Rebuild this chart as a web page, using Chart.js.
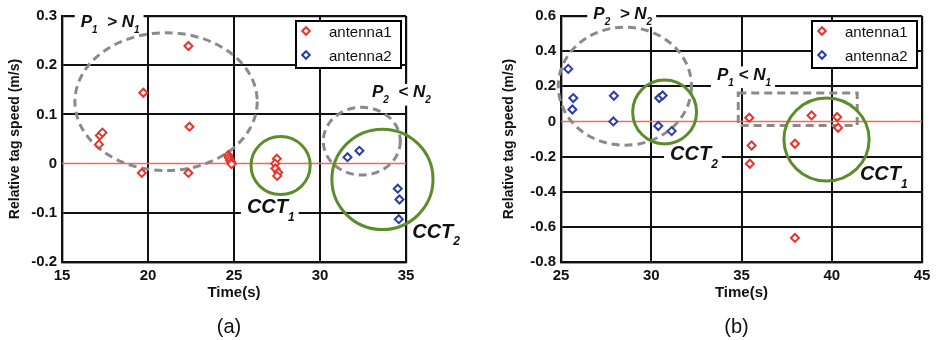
<!DOCTYPE html>
<html><head><meta charset="utf-8">
<script src="https://cdn.jsdelivr.net/npm/chart.js@4.4.1/dist/chart.umd.min.js"></script>
<style>
html,body{margin:0;padding:0;background:#fff;}
#wrap{position:relative;width:937px;height:340px;overflow:hidden;background:#fff;}
.c{position:absolute;top:0;height:340px;}
#ca{left:0;width:468px;} #cb{left:468px;width:469px;}
</style></head><body>
<div id="wrap"><div class="c" id="ca"><canvas id="a" width="468" height="340"></canvas></div><div class="c" id="cb"><canvas id="b" width="469" height="340"></canvas></div></div>
<script>
// ---------- data (a) ----------
const timeA1  = [17.15,17.2,17.35,19.64,19.73,22.35,22.35,22.41,24.66,24.71,24.77,24.83,24.86,27.49,27.39,27.41,27.57,27.51];
const speedA1 = [0.039,0.057,0.063,-0.019,0.144,0.239,-0.019,0.075,0.017,0.012,0.007,0.003,-0.001,0.010,0.000,-0.010,-0.018,-0.025];
const timeA2  = [31.6,32.29,34.52,34.62,34.58];
const speedA2 = [0.013,0.026,-0.051,-0.073,-0.113];
// ---------- data (b) ----------
const timeB1  = [35.43,35.56,35.46,37.96,37.96,38.88,40.3,40.35];
const speedB1 = [0.021,-0.137,-0.241,-0.127,-0.663,0.034,0.025,-0.036];
const timeB2  = [25.4,25.68,25.63,27.93,27.9,30.44,30.63,30.39,31.13];
const speedB2 = [0.299,0.133,0.068,0.146,0.0,0.133,0.148,-0.026,-0.055];
// ---------- ticks ----------
const xTicksA = [15,20,25,30,35];
const xLabelsA = ['15','20','25','30','35'];
const yTicksA = [-0.2,-0.1,0,0.1,0.2,0.3];
const yLabelsA = ['-0.2','-0.1','0','0.1','0.2','0.3'];
const xTicksB = [25,30,35,40,45];
const xLabelsB = ['25','30','35','40','45'];
const yTicksB = [-0.8,-0.6,-0.4,-0.2,0,0.2,0.4,0.6];
const yLabelsB = ['-0.8','-0.6','-0.4','-0.2','0','0.2','0.4','0.6'];
const seriesNames = ['antenna1','antenna2'];
const xTitle = 'Time(s)';
const yTitle = 'Relative tag speed (m/s)';

// ---------- annotations (in data units) ----------
const shapesA = [
  {type:'ellipse', cx:21.05, cy:0.126, rx:5.3, ry:0.14, style:'gray'},
  {type:'ellipse', cx:32.43, cy:0.0456, rx:2.24, ry:0.069, style:'gray'},
  {type:'ellipse', cx:27.71, cy:-0.004, rx:1.72, ry:0.059, style:'green'},
  {type:'ellipse', cx:33.63, cy:-0.032, rx:2.94, ry:0.102, style:'green'}
];
const labelsA = [
  {x:16.09, y:0.2785, size:17, bg:true, parts:[['P',0],['1',1],['  > N',0],['1',1]]},
  {x:33.02, y:0.135, size:17, bg:true, parts:[['P',0],['2',1],['  < N',0],['2',1]]},
  {x:25.75, y:-0.1014, size:20, bg:true, parts:[['CCT',0],['1',1]]},
  {x:35.36, y:-0.1515, size:20, bg:false, parts:[['CCT',0],['2',1]]}
];
const shapesB = [
  {type:'ellipse', cx:28.54, cy:0.2006, rx:3.69, ry:0.336, style:'gray'},
  {type:'rect', x0:34.82, y0:0.162, x1:41.41, y1:-0.023, style:'gray'},
  {type:'ellipse', cx:30.74, cy:0.054, rx:1.77, ry:0.182, style:'green'},
  {type:'ellipse', cx:39.71, cy:-0.103, rx:2.36, ry:0.236, style:'green'}
];
const labelsB = [
  {x:26.79, y:0.585, size:17, bg:true, parts:[['P',0],['2',1],['  > N',0],['2',1]]},
  {x:33.64, y:0.2376, size:17, bg:true, parts:[['P',0],['1',1],[' < N',0],['1',1]]},
  {x:31.04, y:-0.222, size:20, bg:true, parts:[['CCT',0],['2',1]]},
  {x:41.56, y:-0.336, size:20, bg:false, parts:[['CCT',0],['1',1]]}
];

const RED = '#e8342c', BLUE = '#2b3ea8', GREEN = '#5c8c2b', GRAY = '#8a8a8a', ZERO = '#f26d50';
const FAM = '"Liberation Sans", Arial, Helvetica, sans-serif';

function labelMetrics(ctx, L) {
  const subSize = Math.round(L.size * 0.6);
  let w = 0;
  const ws = L.parts.map(p => {
    ctx.font = `italic bold ${p[1] ? subSize : L.size}px ${FAM}`;
    const m = ctx.measureText(p[0]).width; w += m; return m;
  });
  return {subSize, ws, w};
}

const annotPlugin = {
  id: 'annot',
  beforeDatasetsDraw(chart, args, opts) {
    const ctx = chart.ctx, xs = chart.scales.x, ys = chart.scales.y, ca = chart.chartArea;
    ctx.save();
    // zero line
    const y0 = ys.getPixelForValue(0);
    ctx.strokeStyle = ZERO; ctx.lineWidth = 1.5;
    ctx.beginPath(); ctx.moveTo(ca.left, y0); ctx.lineTo(ca.right, y0); ctx.stroke();
    // label backgrounds
    opts.labels.forEach(L => {
      if (!L.bg) return;
      const m = labelMetrics(ctx, L);
      const px = xs.getPixelForValue(L.x), py = ys.getPixelForValue(L.y);
      ctx.fillStyle = '#fff';
      ctx.fillRect(px - 6, py - L.size * 0.78, m.w + 10, L.size * 0.78 + m.subSize * 0.75 + 1);
    });
    // shapes
    opts.shapes.forEach(s => {
      ctx.beginPath();
      if (s.style === 'gray') { ctx.strokeStyle = GRAY; ctx.lineWidth = 3; ctx.setLineDash([8, 5]); }
      else { ctx.strokeStyle = GREEN; ctx.lineWidth = 3; ctx.setLineDash([]); }
      if (s.type === 'ellipse') {
        const cx = xs.getPixelForValue(s.cx), cy = ys.getPixelForValue(s.cy);
        const rx = Math.abs(xs.getPixelForValue(s.cx + s.rx) - cx);
        const ry = Math.abs(ys.getPixelForValue(s.cy + s.ry) - cy);
        ctx.ellipse(cx, cy, rx, ry, 0, 0, Math.PI * 2);
      } else {
        const x0 = xs.getPixelForValue(s.x0), x1 = xs.getPixelForValue(s.x1);
        const y0r = ys.getPixelForValue(s.y0), y1r = ys.getPixelForValue(s.y1);
        ctx.rect(x0, y0r, x1 - x0, y1r - y0r);
      }
      ctx.stroke();
    });
    ctx.setLineDash([]);
    // label text
    opts.labels.forEach(L => {
      const m = labelMetrics(ctx, L);
      let px = xs.getPixelForValue(L.x); const py = ys.getPixelForValue(L.y);
      ctx.fillStyle = '#111'; ctx.textBaseline = 'alphabetic'; ctx.textAlign = 'left';
      L.parts.forEach((p, i) => {
        ctx.font = `italic bold ${p[1] ? m.subSize : L.size}px ${FAM}`;
        ctx.fillText(p[0], px, p[1] ? py + L.size * 0.36 : py);
        px += m.ws[i];
      });
    });
    ctx.restore();
  },
  afterDatasetsDraw(chart, args, opts) {
    const ctx = chart.ctx, ca = chart.chartArea;
    ctx.save();
    // legend
    const bw = 105, bh = 47;
    const bx = ca.right - 5 - bw, by = ca.top + 5;
    ctx.fillStyle = '#fff'; ctx.fillRect(bx, by, bw, bh);
    ctx.strokeStyle = '#000'; ctx.lineWidth = 2; ctx.strokeRect(bx, by, bw, bh);
    chart.data.datasets.forEach((d, i) => {
      const my = by + 10 + i * 24, mx = bx + 10, r = 3.8;
      ctx.beginPath();
      ctx.moveTo(mx - r, my); ctx.lineTo(mx, my - r); ctx.lineTo(mx + r, my); ctx.lineTo(mx, my + r); ctx.closePath();
      ctx.fillStyle = '#fff'; ctx.fill();
      ctx.strokeStyle = d.pointBorderColor; ctx.lineWidth = 2; ctx.stroke();
      ctx.fillStyle = '#111'; ctx.font = `15px ${FAM}`; ctx.textBaseline = 'middle'; ctx.textAlign = 'left';
      ctx.fillText(d.label, bx + 33, my + 2);
    });
    // panel letter
    ctx.fillStyle = '#111'; ctx.font = `20px ${FAM}`; ctx.textAlign = 'center'; ctx.textBaseline = 'middle';
    ctx.fillText(opts.letter, (ca.left + ca.right) / 2 - 5, chart.height - 12.5);
    ctx.restore();
  }
};

function makeChart(id, o) {
  const edgeW = (n) => (c) => (c.index === 0 || c.index === n - 1) ? 2.2 : 2;
  return new Chart(document.getElementById(id), {
    type: 'scatter',
    data: { datasets: [
      { label: seriesNames[0], data: o.t1.map((t, i) => ({x: t, y: o.v1[i]})),
        pointStyle: 'rectRot', pointRadius: 4, pointBorderWidth: 2, pointBorderColor: RED, pointBackgroundColor: '#fff', showLine: false },
      { label: seriesNames[1], data: o.t2.map((t, i) => ({x: t, y: o.v2[i]})),
        pointStyle: 'rectRot', pointRadius: 4, pointBorderWidth: 2, pointBorderColor: BLUE, pointBackgroundColor: '#fff', showLine: false }
    ]},
    plugins: [annotPlugin],
    options: {
      responsive: false, animation: false, events: [],
      layout: { padding: { left: 0, top: 16, right: o.padR, bottom: 0 } },
      plugins: { legend: { display: false }, tooltip: { enabled: false },
        annot: { shapes: o.shapes, labels: o.labels, letter: o.letter } },
      scales: {
        x: { type: 'linear', min: o.xt[0], max: o.xt[o.xt.length - 1],
          afterBuildTicks: s => { s.ticks = o.xt.map(v => ({value: v})); },
          afterFit: s => { s.height = 78; },
          ticks: { callback: (v, i) => o.xl[i], color: '#111', padding: 5, maxRotation: 0, autoSkip: false,
            font: { family: FAM, size: 15, weight: 'bold' } },
          grid: { color: '#111', lineWidth: edgeW(o.xt.length), drawTicks: false },
          border: { color: '#111', width: 2.2 },
          title: { display: true, text: xTitle, color: '#111', padding: { top: 0, bottom: 38 },
            font: { family: FAM, size: 15, weight: 'bold' } } },
        y: { type: 'linear', min: o.yt[0], max: o.yt[o.yt.length - 1],
          afterBuildTicks: s => { s.ticks = o.yt.map(v => ({value: v})); },
          afterFit: s => { s.width = o.yw; },
          ticks: { callback: (v, i) => o.yl[i], color: '#111', padding: 5, autoSkip: false,
            font: { family: FAM, size: 15, weight: 'bold' } },
          grid: { color: c => (c.tick && c.tick.value === 0) ? 'rgba(0,0,0,0)' : '#111',
            lineWidth: edgeW(o.yt.length), drawTicks: false },
          border: { color: '#111', width: 2.2 },
          title: { display: true, text: yTitle, color: '#111', padding: { top: o.ytp, bottom: 0 },
            font: { family: FAM, size: 14, weight: 'bold' } } }
      }
    }
  });
}

makeChart('a', { t1: timeA1, v1: speedA1, t2: timeA2, v2: speedA2, xt: xTicksA, xl: xLabelsA, yt: yTicksA, yl: yLabelsA,
  yw: 62, padR: 62, ytp: 7, shapes: shapesA, labels: labelsA, letter: '(a)' });
makeChart('b', { t1: timeB1, v1: speedB1, t2: timeB2, v2: speedB2, xt: xTicksB, xl: xLabelsB, yt: yTicksB, yl: yLabelsB,
  yw: 93, padR: 15, ytp: 33, shapes: shapesB, labels: labelsB, letter: '(b)' });
</script>
</body></html>
